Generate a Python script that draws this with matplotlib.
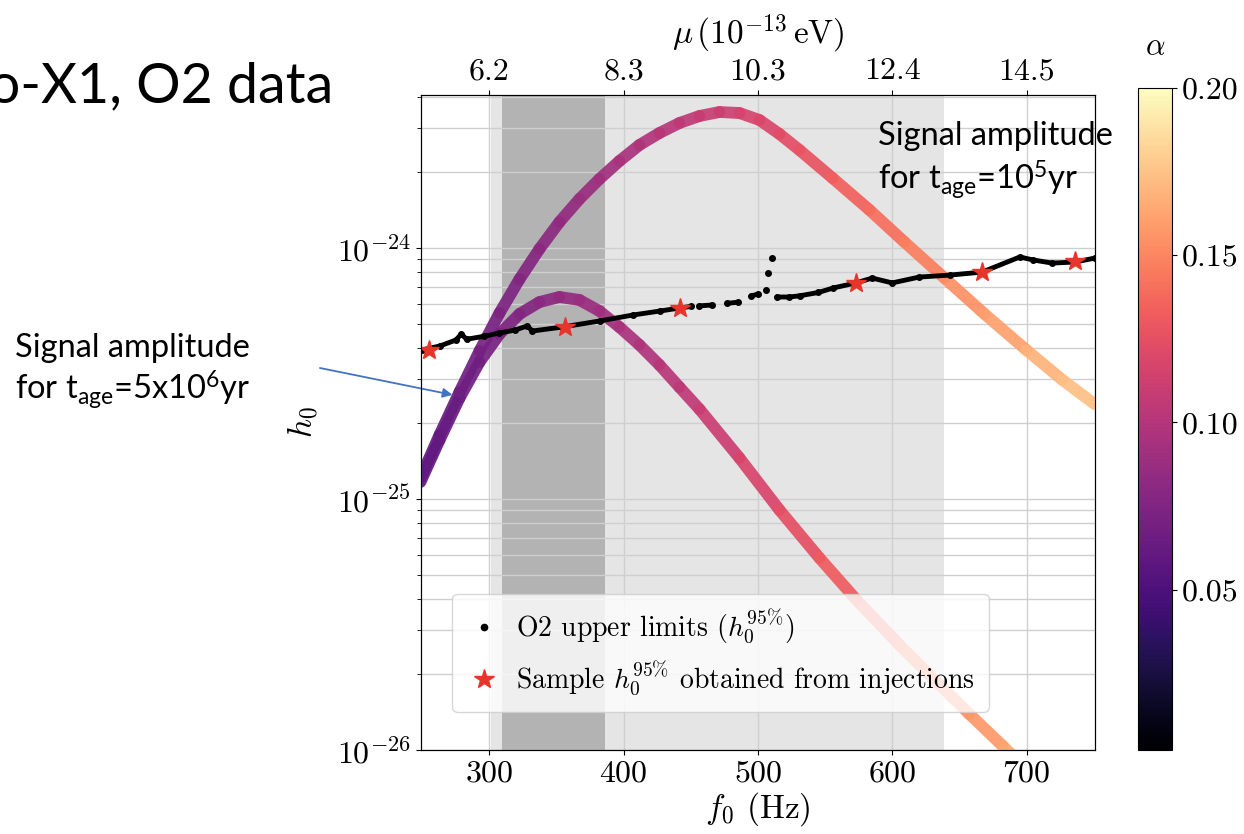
import numpy as np
import matplotlib
matplotlib.use('Agg')
import matplotlib.pyplot as plt
from matplotlib.collections import LineCollection
from matplotlib.lines import Line2D
from matplotlib.colors import Normalize

plt.rcParams['font.family'] = 'serif'
plt.rcParams['font.serif'] = ['cmr10']
plt.rcParams['mathtext.fontset'] = 'cm'
plt.rcParams['axes.formatter.use_mathtext'] = True
plt.rcParams['mathtext.rm'] = 'Lato'
plt.rcParams['mathtext.it'] = 'Lato:italic'
plt.rcParams['mathtext.bf'] = 'Lato:bold'

# O2 upper limits (nan = gap between dots)
ul_f = [250, 263, 275, 279, 283, 296, 307, 319, 328, 332, 354, 382, 407, 427, 442, 450,
        np.nan, 456, 466, np.nan, 477, 485, np.nan, 495, 500, np.nan,
        505.6, np.nan, 507.8, np.nan, 510.1, np.nan,
        514, 523, 531, 545, 556, 573, 585, 600, 620, 643, 667, 695, 705, 719, 736, 751]
ul_h = [3.93e-25, 4.07e-25, 4.30e-25, 4.54e-25, 4.33e-25, 4.45e-25, 4.58e-25, 4.71e-25,
        4.89e-25, 4.67e-25, 4.84e-25, 5.12e-25, 5.41e-25, 5.61e-25, 5.77e-25, 5.85e-25,
        np.nan, 5.88e-25, 5.93e-25, np.nan, 6.02e-25, 6.08e-25, np.nan, 6.45e-25, 6.55e-25, np.nan,
        6.81e-25, np.nan, 7.95e-25, np.nan, 9.12e-25, np.nan,
        6.38e-25, 6.38e-25, 6.45e-25, 6.65e-25, 6.93e-25, 7.26e-25, 7.59e-25, 7.26e-25,
        7.66e-25, 7.80e-25, 8.02e-25, 9.21e-25, 8.96e-25, 8.71e-25, 8.79e-25, 9.12e-25]

# injection samples
inj_f = [255, 356, 442, 573, 667, 736]
inj_h = [3.93e-25, 4.84e-25, 5.77e-25, 7.26e-25, 8.02e-25, 8.87e-25]

# signal amplitude, t_age = 1e5 yr
young_f = [248.6, 262.8, 277.7, 292.6, 307.5, 322.4, 337.2, 352.1, 367.0, 381.9, 396.8,
           411.7, 426.6, 441.5, 456.4, 471.3, 486.2, 501.1, 516.0, 530.9, 555.5, 583.1,
           609.1, 638.9, 668.7, 700.0, 726.8, 750.7]
young_h = [1.213e-25, 1.80e-25, 2.67e-25, 3.89e-25, 5.51e-25, 7.52e-25, 9.91e-25, 1.269e-24,
           1.567e-24, 1.883e-24, 2.221e-24, 2.573e-24, 2.872e-24, 3.148e-24, 3.357e-24,
           3.482e-24, 3.450e-24, 3.236e-24, 2.846e-24, 2.457e-24, 1.900e-24, 1.417e-24,
           1.056e-24, 7.59e-25, 5.46e-25, 3.92e-25, 2.98e-25, 2.39e-25]

# signal amplitude, t_age = 5e6 yr
old_f = [248.6, 262.8, 277.7, 292.6, 307.5, 322.4, 337.2, 352.1, 367.0, 381.9, 396.8,
         411.7, 426.6, 441.5, 456.4, 486.2, 516.0, 545.8, 573.4, 605.4, 627.8, 657.5,
         682.1, 702.2]
old_h = [1.169e-25, 1.718e-25, 2.526e-25, 3.513e-25, 4.544e-25, 5.46e-25, 6.09e-25, 6.38e-25,
         6.21e-25, 5.61e-25, 4.84e-25, 4.11e-25, 3.42e-25, 2.79e-25, 2.28e-25, 1.457e-25,
         9.04e-26, 5.82e-26, 3.96e-26, 2.62e-26, 1.99e-26, 1.39e-26, 1.04e-26, 8.17e-27]

alpha_per_hz = 2.35e-4

f_ticks = [300, 400, 500, 600, 700]
mu_labels = ['6.2', '8.3', '10.3', '12.4', '14.5']
cbar_ticks = [0.05, 0.10, 0.15, 0.20]

W, H = 1244, 834
fig = plt.figure(figsize=(W / 100, H / 100), dpi=100)
ax = fig.add_axes([421 / W, 1 - 750 / H, 674 / W, 655 / H])
cax = fig.add_axes([1138 / W, 1 - 750 / H, 34 / W, 662 / H])

ax.set_yscale('log')
ax.set_xlim(249, 751)
ax.set_ylim(1e-26, 4.07e-24)

ax.axvspan(301.3, 638.9, color='#e5e5e5', lw=0, zorder=0)
ax.axvspan(309.5, 386.2, color='#b3b3b3', lw=0, zorder=0.5)

ax.grid(True, which='both', axis='y', color='#cfcfcf', lw=1.0)
ax.grid(True, which='major', axis='x', color='#cfcfcf', lw=1.0)

norm = Normalize(0.002, 0.2)
cmap = plt.get_cmap('magma')


def colored_curve(fs, hs):
    pts = np.column_stack([fs, hs])
    segs = np.stack([pts[:-1], pts[1:]], axis=1)
    mid = 0.5 * (np.array(fs[:-1]) + np.array(fs[1:]))
    lc = LineCollection(segs, cmap=cmap, norm=norm, linewidths=8.5, alpha=0.92,
                        capstyle='round', joinstyle='round', zorder=3)
    lc.set_array(mid * alpha_per_hz)
    ax.add_collection(lc)


colored_curve(old_f, old_h)
colored_curve(young_f, young_h)

ax.plot(ul_f, ul_h, color='k', lw=3.5, marker='o', ms=4, zorder=4,
        solid_capstyle='round')
ax.plot(inj_f, inj_h, ls='none', marker='*', color='#e8352b', ms=15, zorder=5)

ax.set_xticks(f_ticks)
ax.tick_params(axis='both', which='both', labelsize=23, direction='out')
ax.tick_params(axis='y', which='minor', length=3)
ax.set_xlabel(r'$f_0$ (Hz)', fontsize=24, labelpad=2)
ax.set_ylabel(r'$h_0$', fontsize=24, labelpad=12)

ax2 = ax.twiny()
ax2.set_xlim(ax.get_xlim())
ax2.set_xticks(f_ticks)
ax2.set_xticklabels(mu_labels)
ax2.tick_params(labelsize=23)
ax2.set_xlabel(r'$\mu\,(10^{-13}\,\mathrm{eV})$', fontsize=24, labelpad=10)

handles = [Line2D([], [], ls='none', marker='.', color='k', ms=9),
           Line2D([], [], ls='none', marker='*', color='#e8352b', ms=15)]
labels = [r'O2 upper limits ($h_0^{95\%}$)',
          r'Sample $h_0^{95\%}$ obtained from injections']
leg = ax.legend(handles, labels, loc='lower left', bbox_to_anchor=(0.046, 0.058),
                borderaxespad=0, fontsize=20, framealpha=0.8, handlelength=1.3,
                handletextpad=0.5, borderpad=0.5)
leg.set_zorder(6)

sm = plt.cm.ScalarMappable(norm=norm, cmap=cmap)
cb = fig.colorbar(sm, cax=cax, ticks=cbar_ticks, format='%.2f')
cb.ax.tick_params(labelsize=23)
cb.ax.set_title(r'$\alpha$', fontsize=22, pad=24)

# slide text
fig.text(333 / W, 1 - 102 / H, 'Sco-X1, O2 data', ha='right', va='baseline',
         fontsize=40, family='Lato')
txt = dict(fontsize=23.5, family='Lato', math_fontfamily='custom', va='baseline')
fig.text(15 / W, 1 - 357 / H, 'Signal amplitude', **txt)
fig.text(15 / W, 1 - 400 / H, r'for t$_{\mathrm{age}}$=5x10$^{6}$yr', **txt)
fig.text(878 / W, 1 - 145 / H, 'Signal amplitude', **txt)
fig.text(878 / W, 1 - 190 / H, r'for t$_{\mathrm{age}}$=10$^{5}$yr', **txt)

ax.annotate('', xy=(272.4, 2.6e-25), xycoords='data',
            xytext=(320 / W, 1 - 368 / H), textcoords='figure fraction',
            arrowprops=dict(arrowstyle='-|>', color='#4472c4', lw=1.3,
                            mutation_scale=14, shrinkA=0, shrinkB=0))

fig.savefig('out.png', dpi=100)
